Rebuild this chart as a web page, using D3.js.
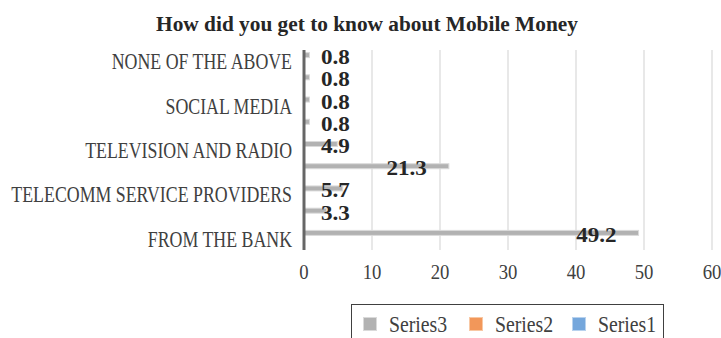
<!DOCTYPE html>
<html><head><meta charset="utf-8">
<script src="https://cdn.jsdelivr.net/npm/d3@7"></script>
<style>
html,body{margin:0;padding:0;background:#fff;}
svg{display:block;}
text{font-family:"Liberation Serif","DejaVu Serif",serif;}
</style></head>
<body>
<svg id="chart" width="721" height="338"></svg>
<script>
// ---- data ----
const title = "How did you get to know about Mobile Money";
// categories, bottom to top (Excel hides every other label)
const categories = ["FROM THE BANK", "", "TELECOMM SERVICE PROVIDERS", "", "TELEVISION AND RADIO", "", "SOCIAL MEDIA", "", "NONE OF THE ABOVE"];
const series3 = [49.2, 3.3, 5.7, 21.3, 4.9, 0.8, 0.8, 0.8, 0.8];
const series2 = [null, null, null, null, null, null, null, null, null];
const series1 = [null, null, null, null, null, null, null, null, null];
const seriesNames = ["Series3", "Series2", "Series1"];
const xTicks = [0, 10, 20, 30, 40, 50, 60];

// ---- layout ----
const svg = d3.select("#chart");
const X0 = 304, X1 = 712, YTOP = 50, YBOT = 250;
const x = d3.scaleLinear().domain([0, 60]).range([X0, X1]);
const idx = d3.range(categories.length);
const y = d3.scaleBand().domain(idx.slice().reverse()).range([YTOP, YBOT]);
// slots within a band: Series3 top, Series2 middle, Series1 bottom
const slot = d3.scaleBand().domain(seriesNames).range([-9, 9]);
const colors = {Series3: "#b2b2b2", Series2: "#f2975a", Series1: "#75a7dc"};
const strokes = {Series3: "#dadada", Series2: "#f8c8a4", Series1: "#b8d2ee"};

function sText(sel, px, py, sx, anchor) {
  // horizontally condensed text
  return sel.attr("transform", `translate(${px},${py}) scale(${sx},1)`)
    .attr("x", 0).attr("y", 0).attr("text-anchor", anchor);
}

// title
sText(svg.append("text"), 367, 31, 0.97, "middle")
  .attr("font-size", 22).attr("font-weight", "bold").attr("fill", "#262626")
  .text(title);

// gridlines
svg.append("g").selectAll("line").data(xTicks.filter(t => t > 0)).join("line")
  .attr("x1", d => x(d)).attr("x2", d => x(d))
  .attr("y1", YTOP).attr("y2", YBOT)
  .attr("stroke", "#d9d9d9").attr("stroke-width", 1.2);

// bars
const sdata = {Series3: series3, Series2: series2, Series1: series1};
seriesNames.forEach(s => {
  const rows = idx.map(i => ({i, v: sdata[s][i]})).filter(d => d.v != null);
  svg.append("g").selectAll("rect").data(rows).join("rect")
    .attr("x", x(0))
    .attr("y", d => y(d.i) + y.bandwidth() / 2 + slot(s) + 0.5)
    .attr("width", d => x(d.v) - x(0))
    .attr("height", slot.bandwidth() - 1)
    .attr("fill", colors[s]).attr("stroke", strokes[s]).attr("stroke-width", 1);
});

// axis line
svg.append("line").attr("x1", X0).attr("x2", X0).attr("y1", YTOP).attr("y2", YBOT)
  .attr("stroke", "#666666").attr("stroke-width", 3);

// category labels
const LSX = 0.775;
idx.forEach(i => {
  if (!categories[i]) return;
  sText(svg.append("text"), 292, y(i) + y.bandwidth() / 2 + 8, LSX, "end")
    .attr("font-size", 23).attr("fill", "#404040").text(categories[i]);
});

// x tick labels
xTicks.forEach(t => {
  sText(svg.append("text"), x(t), 279, 0.85, "middle")
    .attr("font-size", 22).attr("fill", "#404040").text(t);
});

// data labels (Series3)
const DSX = 1.05;
series3.forEach((v, i) => {
  const cy = y(i) + y.bandwidth() / 2 + slot("Series3") + slot.bandwidth() / 2 + 1.5;
  const t = svg.append("text").attr("font-size", 22).attr("font-weight", "bold")
    .attr("fill", "#262626").text(v.toFixed(1));
  sText(t, 0, 0, DSX, "start");
  const w = t.node().getComputedTextLength() * DSX;
  const left = Math.max(x(0) + 17, x(v) - 22 - w);
  t.attr("transform", `translate(${left},${cy + 7.5}) scale(${DSX},1)`);
});

// legend
const lg = svg.append("g");
lg.append("rect").attr("x", 351.5).attr("y", 304.5).attr("width", 312).attr("height", 60)
  .attr("fill", "#fff").attr("stroke", "#404040").attr("stroke-width", 1);
const legX = [363, 469, 572];
seriesNames.forEach((s, k) => {
  lg.append("rect").attr("x", legX[k] + 0.5).attr("y", 317.5).attr("width", 13).attr("height", 13)
    .attr("fill", colors[s]).attr("stroke", strokes[s]).attr("stroke-width", 1);
  sText(lg.append("text"), legX[k] + 26, 331.5, 0.86, "start")
    .attr("font-size", 23).attr("fill", "#404040").text(s);
});
</script>
</body></html>
